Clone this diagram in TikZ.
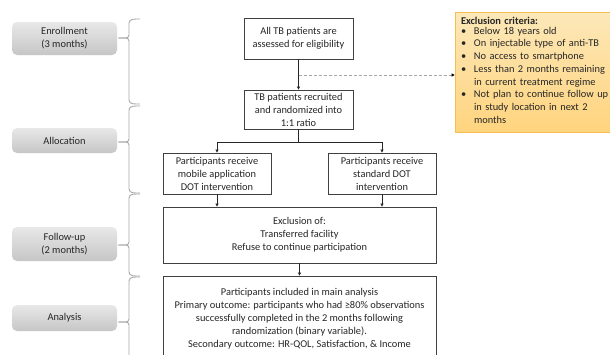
\documentclass[tikz,border=0pt]{standalone}
\usepackage{fontspec}
\setmainfont{Carlito}
\usetikzlibrary{arrows.meta}
\definecolor{boxline}{HTML}{404040}
\definecolor{bracecol}{HTML}{A8A8A8}
\definecolor{exctop}{HTML}{FCE8B8}
\definecolor{excbot}{HTML}{FFD47E}
\definecolor{excline}{HTML}{F4BE55}
\definecolor{lbtop}{HTML}{E8E8E8}
\definecolor{lbbot}{HTML}{C6C6C6}
\newcommand\mybrace[3]{%
  \draw[bracepath] (140,#1) to[out=180,in=90] (129,#1+4) -- (129,#2-3)
    to[out=-90,in=0] (118,#2) to[out=0,in=90] (129,#2+3) -- (129,#3-4)
    to[out=-90,in=180] (140,#3);}
\begin{document}
\begin{tikzpicture}[x=1pt,y=-1pt,
  mbox/.style={draw=boxline, line width=0.8pt, fill=white, align=center,
    inner sep=2pt, font=\fontsize{10.4}{13}\selectfont, text=black!85},
  lbox/.style={rounded corners=5pt, top color=lbtop, bottom color=lbbot,
    draw=none, align=center, minimum width=105pt,
    font=\fontsize{10.4}{13}\selectfont, text=black!85},
  excbox/.style={draw=excline, line width=0.6pt, top color=exctop, bottom color=excbot,
    text width=143pt, inner xsep=6pt, inner ysep=2pt, minimum height=120pt,
    font=\fontsize{10.4}{12.7}\selectfont, text=black!85},
  line/.style={draw=black!85, line width=0.6pt},
  arr/.style={line, -{Triangle[length=3pt,width=3pt]}},
  dsh/.style={draw=black!35, line width=0.8pt, dash pattern=on 3pt off 2pt,
    -{Triangle[length=3pt,width=3pt,color=black]}},
  bracepath/.style={draw=bracecol, line width=0.9pt}]
\clip (0,0) rectangle (610,354);
\fill[white] (0,0) rectangle (610,354);
% left stage boxes
\node[lbox, minimum height=33pt] (enr) at (64.5,38.5) {Enrollment\\(3 months)};
\node[lbox, minimum height=25pt] (alc) at (64.5,140.5) {Allocation};
\node[lbox, minimum height=34pt] (fol) at (64.5,244) {Follow-up\\(2 months)};
\node[lbox, minimum height=26pt] (ana) at (64.5,318) {Analysis};
% braces
\mybrace{19}{38}{104}
\mybrace{106}{142}{193}
\mybrace{194}{245}{276}
\mybrace{277}{322}{380}
% main flow
\node[mbox, minimum width=109pt, minimum height=41pt] (A) at (298.5,38.5) {All TB patients are\\assessed for eligibility};
\node[mbox, minimum width=109pt, minimum height=39pt] (B) at (298.5,109.5) {TB patients recruited\\and randomized into\\1:1 ratio};
\node[mbox, minimum width=108pt, minimum height=41pt] (C) at (217,173.5) {Participants receive\\mobile application\\DOT intervention};
\node[mbox, minimum width=108pt, minimum height=41pt] (D) at (382,173.5) {Participants receive\\standard DOT\\intervention};
\node[mbox, minimum width=273pt, minimum height=56pt] (E) at (299.5,235) {Exclusion of:\\Transferred facility\\Refuse to continue participation};
\node[mbox, minimum width=273pt, minimum height=85pt] (F) at (299.5,318.5) {Participants included in main analysis\\Primary outcome: participants who had ≥80\% observations\\successfully completed in the 2 months following\\randomization (binary variable).\\Secondary outcome: HR-QOL, Satisfaction, \& Income};
\node[excbox] (X) at (532.5,72) {\textbf{Exclusion criteria:}\\[0pt]
\begin{tabular}{@{}p{13pt}@{}l@{}}
\textbullet & Below 18 years old\\
\textbullet & On injectable type of anti-TB\\
\textbullet & No access to smartphone\\
\textbullet & Less than 2 months remaining\\
 & in current treatment regime\\
\textbullet & Not plan to continue follow up\\
 & in study location in next 2\\
 & months
\end{tabular}};
% connectors
\draw[arr] (A) -- (B);
\coordinate (dj) at (298.5,75);
\draw[dsh] (dj) -- (dj -| X.west);
\coordinate (sp) at (298.5,142);
\draw[line] (B) -- (sp);
\draw[arr] (sp) -| (C);
\draw[arr] (sp) -| (D);
\draw[arr] (C) -- (C |- E.north);
\draw[arr] (D) -- (D |- E.north);
\draw[arr] (E) -- (F);
\end{tikzpicture}
\end{document}
